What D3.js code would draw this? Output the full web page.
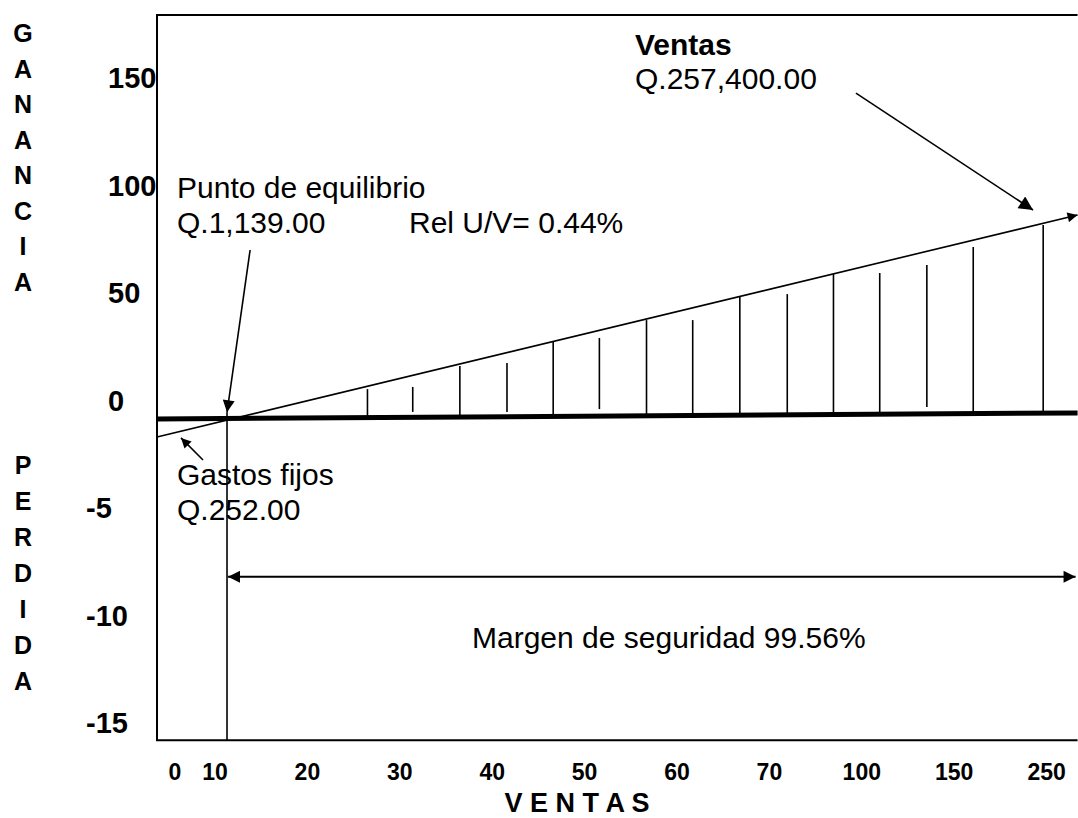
<!DOCTYPE html>
<html>
<head>
<meta charset="utf-8">
<script src="https://cdn.jsdelivr.net/npm/d3@7"></script>
<style>
  body { margin: 0; background: #fff; }
  text { font-family: "Liberation Sans", Arial, sans-serif; fill: #000; }
</style>
</head>
<body>
<div id="chart"></div>
<script>
// Tick labels
const yTickValues = [150, 100, 50, 0, -5, -10, -15];
const xTickValues = [0, 10, 20, 30, 40, 50, 60, 70, 100, 150, 250];
const leftTitle1 = ['G', 'A', 'N', 'A', 'N', 'C', 'I', 'A'];
const leftTitle2 = ['P', 'E', 'R', 'D', 'I', 'D', 'A'];

// Frame extents (in axis units)
const xExtent = [-4.5, 283.5];
const yExtent = [-15.8, 179.3];

// Lines: ventas line and zero (gastos) line
const ventasX = [-4.5, 283.5];
const ventasY = [-1.7, 86.3];
const baseX = [-4.5, 283.5];
const baseY = [-0.86, -0.58];

// Hatch lines of the profit zone
const hatchX = [26.5, 31.4, 36.5, 41.6, 46.6, 51.6, 56.7, 61.7, 66.8, 75.8, 90.8, 109.7, 135.2, 170.6, 246.3];
const hatchTop = [5.3, 6.3, 16.0, 17.4, 27.2, 29.1, 37.4, 37.4, 48.1, 49.5, 58.8, 59.3, 63.0, 71.4, 81.6];
const hatchBase = [-0.77, -0.53, -0.72, -0.53, -0.72, -0.40, -0.72, -0.72, -0.67, -0.63, -0.63, -0.63, -0.30, -0.63, -0.58];

// Break-even point
const equilibrioX = 11.3;
const equilibrioY = -0.55;
const margenY = -8.2;

// Annotation arrows [x1, y1, x2, y2]
const arrowPunto = [13.8, 70.0, 11.3, -0.55];
const arrowGastos = [7.0, -2.77, 1.5, -1.74];
const arrowVentas = [98.1, 143.0, 235.3, 88.6];

const W = 1078, H = 818;

const svg = d3.select('#chart')
    .append('svg')
    .attr('width', W)
    .attr('height', H);

// Scales (piecewise, like the hand-drawn axes)
const xScale = d3.scaleLinear()
    .domain(xTickValues)
    .range(xTickValues.map((d, i) => i === 0 ? 175 : 215 + (i - 1) * 92.4));

const yScale = d3.scaleLinear()
    .domain(yTickValues)
    .range(yTickValues.map((d, i) => 78 + i * 107.5));

// Arrow markers
const defs = svg.append('defs');
function marker(id, w, h) {
    defs.append('marker')
        .attr('id', id)
        .attr('viewBox', '0 -5 10 10')
        .attr('refX', 10)
        .attr('refY', 0)
        .attr('markerUnits', 'userSpaceOnUse')
        .attr('markerWidth', w)
        .attr('markerHeight', h)
        .attr('orient', 'auto-start-reverse')
        .append('path')
        .attr('d', 'M0,-5L10,0L0,5Z')
        .attr('fill', '#000');
}
marker('big', 17, 14);
marker('mid', 15, 12);
marker('small', 12, 10);

// Frame
const x0 = xScale(xExtent[0]), x1 = xScale(xExtent[1]);
const yTop = yScale(yExtent[1]), yBot = yScale(yExtent[0]);
svg.append('path')
    .attr('d', `M${x1},${yTop}H${x0}V${yBot}H${x1}`)
    .attr('fill', 'none')
    .attr('stroke', '#000')
    .attr('stroke-width', 2);

// Y tick labels
svg.selectAll('.ytick')
    .data(yTickValues)
    .enter()
    .append('text')
    .attr('class', 'ytick')
    .attr('x', d => d < 0 ? 86 : 108)
    .attr('y', d => yScale(d))
    .attr('dy', '0.36em')
    .style('font-size', '29px')
    .style('font-weight', 'bold')
    .text(d => d);

// X tick labels
svg.selectAll('.xtick')
    .data(xTickValues)
    .enter()
    .append('text')
    .attr('class', 'xtick')
    .attr('x', d => xScale(d))
    .attr('y', 780)
    .attr('text-anchor', 'middle')
    .style('font-size', '23px')
    .style('font-weight', 'bold')
    .text(d => d);

// Vertical axis titles (one letter per row)
svg.selectAll('.t1')
    .data(leftTitle1)
    .enter()
    .append('text')
    .attr('x', 23)
    .attr('y', (d, i) => 33 + i * 35.5)
    .attr('dy', '0.36em')
    .attr('text-anchor', 'middle')
    .style('font-size', '25px')
    .style('font-weight', 'bold')
    .text(d => d);

svg.selectAll('.t2')
    .data(leftTitle2)
    .enter()
    .append('text')
    .attr('x', 23)
    .attr('y', (d, i) => 465 + i * 36)
    .attr('dy', '0.36em')
    .attr('text-anchor', 'middle')
    .style('font-size', '25px')
    .style('font-weight', 'bold')
    .text(d => d);

svg.append('text')
    .attr('x', 577)
    .attr('y', 812)
    .attr('text-anchor', 'middle')
    .style('font-size', '27px')
    .style('font-weight', 'bold')
    .text('V E N T A S');

// Hatch lines
svg.selectAll('.hatch')
    .data(hatchX)
    .enter()
    .append('line')
    .attr('class', 'hatch')
    .attr('x1', d => xScale(d))
    .attr('x2', d => xScale(d))
    .attr('y1', (d, i) => yScale(hatchBase[i]))
    .attr('y2', (d, i) => yScale(hatchTop[i]))
    .attr('stroke', '#000')
    .attr('stroke-width', 1.6);

// Zero / fixed line (thick)
svg.append('line')
    .attr('x1', xScale(baseX[0]))
    .attr('y1', yScale(baseY[0]))
    .attr('x2', xScale(baseX[1]))
    .attr('y2', yScale(baseY[1]))
    .attr('stroke', '#000')
    .attr('stroke-width', 5);

// Ventas line
svg.append('line')
    .attr('x1', xScale(ventasX[0]))
    .attr('y1', yScale(ventasY[0]))
    .attr('x2', xScale(ventasX[1]))
    .attr('y2', yScale(ventasY[1]))
    .attr('stroke', '#000')
    .attr('stroke-width', 1.6)
    .attr('marker-end', 'url(#small)');

// Break-even vertical
svg.append('line')
    .attr('x1', xScale(equilibrioX))
    .attr('x2', xScale(equilibrioX))
    .attr('y1', yScale(equilibrioY))
    .attr('y2', yBot)
    .attr('stroke', '#000')
    .attr('stroke-width', 1.6);

// Margen de seguridad double arrow
svg.append('line')
    .attr('x1', xScale(equilibrioX) + 1)
    .attr('x2', x1 - 2)
    .attr('y1', yScale(margenY))
    .attr('y2', yScale(margenY))
    .attr('stroke', '#000')
    .attr('stroke-width', 2)
    .attr('marker-start', 'url(#mid)')
    .attr('marker-end', 'url(#mid)');

// Annotation arrows
function arrow(a, m) {
    svg.append('line')
        .attr('x1', xScale(a[0]))
        .attr('y1', yScale(a[1]))
        .attr('x2', xScale(a[2]))
        .attr('y2', yScale(a[3]))
        .attr('stroke', '#000')
        .attr('stroke-width', 1.6)
        .attr('marker-end', `url(#${m})`);
}
arrow(arrowPunto, 'mid');
arrow(arrowGastos, 'small');
arrow(arrowVentas, 'big');

// Text annotations
function label(x, y, t, bold) {
    svg.append('text')
        .attr('x', x)
        .attr('y', y)
        .style('font-size', '30px')
        .style('font-weight', bold ? 'bold' : 'normal')
        .text(t);
}
label(635, 55, 'Ventas', true);
label(635, 89, 'Q.257,400.00');
label(177, 198, 'Punto de equilibrio');
label(177, 233, 'Q.1,139.00');
label(409, 233, 'Rel U/V= 0.44%');
label(177, 485, 'Gastos fijos');
label(177, 520, 'Q.252.00');
label(472, 648, 'Margen de seguridad 99.56%');
</script>
</body>
</html>
